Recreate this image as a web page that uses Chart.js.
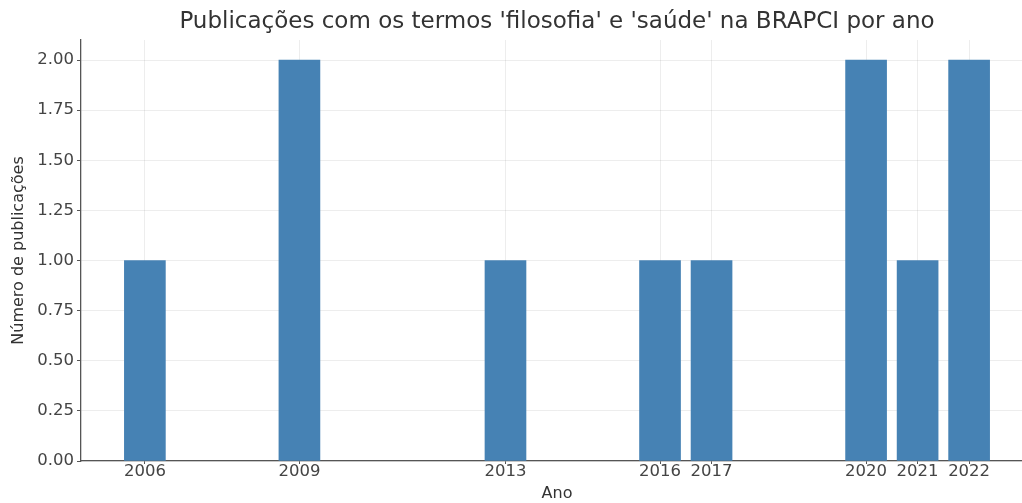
<!DOCTYPE html>
<html>
<head>
<meta charset="utf-8">
<script src="https://cdn.jsdelivr.net/npm/chart.js@4/dist/chart.umd.min.js"></script>
<style>
  html, body { margin: 0; padding: 0; background: #fff; overflow: hidden; }
  #wrap { width: 1022px; height: 503px; overflow: hidden; }
</style>
</head>
<body>
<div id="wrap"><canvas id="c" width="1033" height="503"></canvas></div>
<script>
const years = [2006, 2009, 2013, 2016, 2017, 2020, 2021, 2022];
const counts = [1, 2, 1, 1, 1, 2, 1, 2];
const yTicks = [0, 0.25, 0.5, 0.75, 1.0, 1.25, 1.5, 1.75, 2.0];
const xLimits = [2004.76, 2023.24];
const yLimits = [0, 2.1];

const titleText = "Publicações com os termos 'filosofia' e 'saúde' na BRAPCI por ano";
const xTitle = "Ano";
const yTitle = "Número de publicações";

const FONT = "'DejaVu Sans', sans-serif";

new Chart(document.getElementById('c'), {
  type: 'bar',
  data: {
    datasets: [{
      data: years.map((y, i) => ({ x: y, y: counts[i] })),
      backgroundColor: '#4682b4',
      borderWidth: 0,
      barThickness: 41
    }]
  },
  options: {
    responsive: false,
    animation: false,
    layout: { padding: 0 },
    plugins: {
      legend: { display: false },
      tooltip: { enabled: false },
      title: {
        display: true,
        text: titleText,
        fullSize: false,
        color: '#333',
        font: { family: FONT, size: 23, weight: 'normal' },
        padding: { top: 8, bottom: 4.4 }
      }
    },
    scales: {
      x: {
        type: 'linear',
        min: xLimits[0],
        max: xLimits[1],
        offset: false,
        afterBuildTicks: s => { s.ticks = years.map(v => ({ value: v })); },
        afterFit: s => { s.height = 42; },
        ticks: {
          color: '#444',
          font: { family: FONT, size: 16.5 },
          padding: -2,
          maxRotation: 0,
          autoSkip: false,
          callback: v => String(v)
        },
        grid: {
          color: 'rgba(0,0,0,0.07)',
          drawTicks: true,
          tickLength: 3,
          tickColor: '#555',
          offset: false
        },
        border: { color: '#555', width: 1.3 },
        title: {
          display: true,
          text: xTitle,
          color: '#333',
          font: { family: FONT, size: 16 },
          padding: { top: 0, bottom: 0 }
        }
      },
      y: {
        type: 'linear',
        min: yLimits[0],
        max: yLimits[1],
        afterBuildTicks: s => { s.ticks = yTicks.map(v => ({ value: v })); },
        afterFit: s => { s.width = 81; },
        ticks: {
          color: '#444',
          font: { family: FONT, size: 16.5 },
          padding: 3,
          callback: v => Number(v).toFixed(2)
        },
        grid: {
          color: 'rgba(0,0,0,0.07)',
          drawTicks: true,
          tickLength: 4,
          tickColor: '#555'
        },
        border: { color: '#555', width: 1.3 },
        title: {
          display: true,
          text: yTitle,
          color: '#333',
          font: { family: FONT, size: 16 },
          padding: { top: 9, bottom: 0 }
        }
      }
    }
  }
});
</script>
</body>
</html>
